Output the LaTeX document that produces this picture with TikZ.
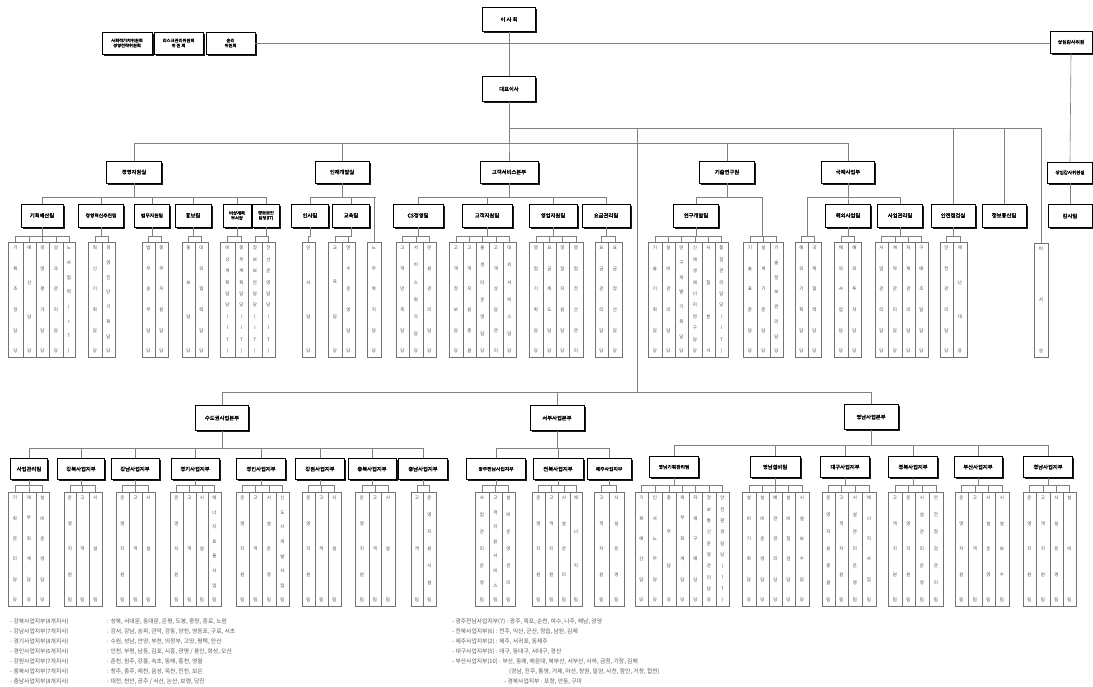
\documentclass[tikz,border=0pt]{standalone}
\usepackage{fontspec}
\usetikzlibrary{shadows}
\newfontfamily\kr{Noto Sans CJK KR}[AutoFakeBold=2]
\ExplSyntaxOn
\int_new:N \l_vc_n_int
\int_new:N \l_vc_i_int
\NewDocumentCommand \vchars { m m m m }
 {
  \int_set:Nn \l_vc_n_int { \tl_count:n {#1} }
  \int_zero:N \l_vc_i_int
  \tl_map_inline:nn {#1}
   {
    \vcput {#2} {#3} {#4} { \int_use:N \l_vc_n_int } { \int_use:N \l_vc_i_int } {##1}
    \int_incr:N \l_vc_i_int
   }
 }
\ExplSyntaxOff
\newcommand\vcput[6]{\pgfmathsetmacro\vcy{#2+6+(#3-#2-12)*(#5)/max((#4)-1,1)}\node[coltext] at ({#1},\vcy) {#6};}
\newcommand\colgrp[5]{%
 \foreach \xa/\xb/\txt [count=\kk] in {#5} {%
   \node[colbox, minimum width=\xb-\xa, minimum height=#4-#3] (#1-c\kk) at ({(\xa+\xb)/2},{(#3+#4)/2}) {};
   \draw[link] (#1.south) -- (#1.south |- 0,#2) -| (#1-c\kk.north);
   \expandafter\vchars\expandafter{\txt}{(\xa+\xb)/2}{#3}{#4}
 }}
\newcommand\kids[3]{\foreach \ch in {#3}{\draw[link] (#1.south) -- (#1.south |- 0,#2) -| (\ch.north);}}
\tikzset{
 box/.style={draw=black, line width=0.55pt, fill=white, font=\kr\bfseries\fontsize{5.3}{6}\selectfont, align=center, inner sep=1pt,
   drop shadow={shadow xshift=1.7pt, shadow yshift=-1.7pt, fill=black!90, opacity=1}},
 link/.style={draw=black!50, line width=0.6pt},
 colbox/.style={draw=black!55, line width=0.5pt, inner sep=0pt},
 coltext/.style={font=\kr\fontsize{4.5}{4.5}\selectfont, text=black!72, inner sep=0pt},
 pt/.style={inner sep=0pt, minimum size=0pt},
 foot/.style={font=\kr\fontsize{5.8}{6}\selectfont, text=black!65, anchor=west, inner sep=0pt},
}
\begin{document}
\begin{tikzpicture}[x=1pt,y=-1pt]
\fill[white] (0,0) rectangle (1093,686);
\useasboundingbox (0,0) rectangle (1093,686);
% top
\node[box, minimum width=53, minimum height=24] (board) at (509,19.5) {이 사 회};
\node[box, minimum width=53, minimum height=25] (ceo) at (509,89) {대표이사};
\node[box, minimum width=42, minimum height=22, font=\kr\bfseries\fontsize{4.8}{5}\selectfont] (aud) at (1071,42) {상임감사위원};
\node[box, minimum width=50, minimum height=22, font=\kr\bfseries\fontsize{4.3}{5}\selectfont] (lb1) at (127,43) {사회적가치위원회\\경영전략위원회};
\node[box, minimum width=49, minimum height=22, font=\kr\bfseries\fontsize{4.3}{5}\selectfont] (lb2) at (178.5,43) {리스크관리위원회\\위 원 회};
\node[box, minimum width=49, minimum height=22, font=\kr\bfseries\fontsize{4.3}{5}\selectfont] (lb3) at (230.5,43) {윤리\\위원회};
\node[box, minimum width=45, minimum height=21, font=\kr\bfseries\fontsize{4.5}{5}\selectfont] (aud2) at (1070,172.5) {상임감사위원실};
\node[box, minimum width=44, minimum height=23] (aud3) at (1070,216) {감사팀};
\draw[link] (board.south) -- (ceo.north);
\draw[link] (lb3.east) -- (lb3.east -| aud.west);
\draw[link] (aud.south) -- (aud2.north);
\draw[link] (aud2.south) -- (aud3.north);
% level 2
\node[box, minimum width=55, minimum height=22] (l2a) at (134,172) {경영지원실};
\node[box, minimum width=54, minimum height=22] (l2b) at (342,172) {인재개발실};
\node[box, minimum width=58, minimum height=22] (l2c) at (509,172) {고객서비스본부};
\node[box, minimum width=55, minimum height=22] (l2d) at (727,172) {기술연구원};
\node[box, minimum width=53, minimum height=22] (l2e) at (848,172) {국제사업부};
\kids{ceo}{143}{l2a,l2b,l2c,l2d,l2e}
% right side
\node[box, minimum width=44, minimum height=23] (r1) at (953,215.5) {안전점검실};
\node[box, minimum width=44, minimum height=23] (r2) at (1004,215.5) {정보통신팀};
\node[pt] (b1040) at (1040,128) {};
\kids{ceo}{128}{r1,r2,b1040}
% level 3
\node[box, minimum width=42, minimum height=23] (l3a) at (42,215.5) {기획예산팀};
\node[box, minimum width=45, minimum height=23, font=\kr\bfseries\fontsize{4.8}{5}\selectfont] (l3b) at (101,215.5) {경영혁신추진팀};
\node[box, minimum width=35, minimum height=23, font=\kr\bfseries\fontsize{4.8}{5}\selectfont] (l3c) at (152,215.5) {법무지원팀};
\node[box, minimum width=36, minimum height=23] (l3d) at (193,215.5) {홍보팀};
\node[box, minimum width=28, minimum height=23, font=\kr\bfseries\fontsize{4.3}{5}\selectfont] (l3e) at (237,215.5) {비상계획\\부서장};
\node[box, minimum width=27, minimum height=23, font=\kr\bfseries\fontsize{4.3}{5}\selectfont] (l3f) at (266,215.5) {정보보안\\담당(IT)};
\kids{l2a}{197}{l3a,l3b,l3c,l3d,l3e,l3f}
\node[box, minimum width=37, minimum height=23] (l3g) at (310,215.5) {인사팀};
\node[box, minimum width=37, minimum height=23] (l3h) at (351,215.5) {교육팀};
\node[pt] (b375) at (375,197) {};
\kids{l2b}{197}{l3g,l3h,b375}
\node[box, minimum width=50, minimum height=23] (l3i) at (418,215.5) {CS경영팀};
\node[box, minimum width=50, minimum height=23] (l3j) at (487,215.5) {고객지원팀};
\node[box, minimum width=48, minimum height=23] (l3k) at (553,215.5) {영업지원팀};
\node[box, minimum width=48, minimum height=23] (l3l) at (606,215.5) {요금관리팀};
\kids{l2c}{197}{l3i,l3j,l3k,l3l}
\node[box, minimum width=45, minimum height=23] (l3m) at (696,215.5) {연구개발팀};
\node[pt] (b762) at (762,197) {};
\kids{l2d}{197}{l3m,b762}
\node[pt] (b807) at (807,197) {};
\node[box, minimum width=45, minimum height=23] (l3n) at (848,215.5) {해외사업팀};
\node[box, minimum width=45, minimum height=23] (l3o) at (900,215.5) {사업관리팀};
\kids{l2e}{197}{b807,l3n,l3o}
% upper columns
\colgrp{l3a}{236}{242}{357}{8/23/기획조정담당, 23/36/예산담당, 36/49/경영평가담당, 49/63/성과관리담당, 63/75/노사협력(IT)}
\colgrp{l3b}{236}{242}{357}{88/102/혁신기획담당, 102/115/경영진단기획담당}
\colgrp{l3c}{236}{242}{357}{142/155/법무송무담당, 155/168/총무지원담당}
\colgrp{l3d}{236}{242}{357}{182/195/홍보담당, 195/208/대외협력담당}
\colgrp{l3e}{236}{242}{357}{220/235/비상계획담당(IT), 235/248/충무계획담당(IT)}
\colgrp{l3f}{236}{242}{357}{248/262/정보보안담당(IT), 262/275/전산운영담당(IT)}
\colgrp{l3g}{236}{242}{357}{302/315/인사담당}
\colgrp{l3h}{236}{242}{357}{328/342/교육담당, 342/355/연수운영담당}
\colgrp{b375}{197}{242}{357}{367/381/노무복지담당}
\colgrp{l3i}{236}{242}{357}{396/409/고객만족담당, 409/423/서비스평가담당, 423/436/민원관리담당}
\colgrp{l3j}{236}{242}{357}{449/463/고객정보담당, 463/476/고객지원총괄, 476/489/콜센터운영담당, 489/503/고객상담관리, 503/516/대외서비스담당}
\colgrp{l3k}{236}{242}{357}{529/543/영업기획담당, 543/556/요금제도담당, 556/569/영업지원담당, 569/583/영업전산관리}
\colgrp{l3l}{236}{242}{357}{595/608/요금관리담당, 608/622/요금정산담당}
\colgrp{l3m}{236}{242}{357}{648/662/기술기획담당, 662/675/설비관리담당, 675/688/연구개발기획담당, 688/702/신재생에너지연구담당, 702/715/시험분석, 715/728/품질관리담당(IT)}
\colgrp{b762}{236}{242}{357}{743/757/기술표준담당, 757/770/설계기준담당, 770/783/기술정보관리담당}
\colgrp{b807}{236}{242}{357}{795/808/해외기획담당, 808/821/국제협력담당}
\colgrp{l3n}{236}{242}{357}{834/848/해외사업담당, 848/861/해외투자담당}
\colgrp{l3o}{236}{242}{357}{875/888/사업관리담당, 888/902/계약관리담당, 902/915/자재관리담당, 915/928/구매조달담당}
\colgrp{r1}{236}{242}{357}{940/953/안전관리담당, 953/967/재난대응}
\colgrp{b1040}{128}{243}{357}{1034/1048/비서실}
% lower section
\node[pt] (lowhub) at (637,392) {};
\draw[link] (ceo.south) -- (ceo.south |- 0,128) -| (lowhub.north);
\node[box, minimum width=53, minimum height=25] (low1) at (222,418) {수도권사업본부};
\node[box, minimum width=54, minimum height=25] (low2) at (557,418) {서부사업본부};
\node[box, minimum width=54, minimum height=25] (low3) at (871,417) {영남사업본부};
\kids{lowhub}{392}{low1,low2,low3}
\node[box, minimum width=37, minimum height=21] (m1) at (29,469) {사업관리팀};
\node[box, minimum width=47, minimum height=21] (m2) at (81,469) {강북사업지부};
\node[box, minimum width=48, minimum height=21] (m3) at (135,469) {강남사업지부};
\node[box, minimum width=48, minimum height=21] (m4) at (195,469) {경기사업지부};
\node[box, minimum width=49, minimum height=21] (m5) at (261,469) {경인사업지부};
\node[box, minimum width=49, minimum height=21] (m6) at (320,469) {강원사업지부};
\node[box, minimum width=48, minimum height=21] (m7) at (372,469) {충북사업지부};
\node[box, minimum width=49, minimum height=21] (m8) at (423,469) {충남사업지부};
\kids{low1}{448}{m1,m2,m3,m4,m5,m6,m7,m8}
\node[box, minimum width=59, minimum height=21, font=\kr\bfseries\fontsize{4.8}{5}\selectfont] (n1) at (496,469) {광주전남사업지부};
\node[box, minimum width=50, minimum height=21] (n2) at (558,469) {전북사업지부};
\node[box, minimum width=44, minimum height=21, font=\kr\bfseries\fontsize{4.8}{5}\selectfont] (n3) at (609,469) {제주사업지부};
\kids{low2}{448}{n1,n2,n3}
\node[box, minimum width=49, minimum height=21, font=\kr\bfseries\fontsize{4.8}{5}\selectfont] (o1) at (674,467) {영남기획관리팀};
\node[box, minimum width=50, minimum height=21] (o2) at (775,467) {영남설비팀};
\node[box, minimum width=49, minimum height=21] (o3) at (845,467) {대구사업지부};
\node[box, minimum width=49, minimum height=21] (o4) at (913,467) {경북사업지부};
\node[box, minimum width=48, minimum height=21] (o5) at (978,467) {부산사업지부};
\node[box, minimum width=49, minimum height=21] (o6) at (1048,467) {경남사업지부};
\kids{low3}{445}{o1,o2,o3,o4,o5,o6}
% lower columns
\colgrp{m1}{485}{492}{606}{8/22/기획관리담당, 22/36/재무회계담당, 36/49/설비운영담당}
\colgrp{m2}{485}{492}{606}{64/76/운영지원팀, 76/89/고객팀, 89/102/시설팀}
\colgrp{m3}{485}{492}{606}{116/129/운영지원팀, 129/142/고객팀, 142/155/시설팀}
\colgrp{m4}{485}{492}{606}{170/183/운영지원팀, 183/196/고객팀, 196/208/시설팀, 208/221/에너지효율사업팀}
\colgrp{m5}{485}{492}{606}{236/249/운영지원팀, 249/262/고객팀, 262/276/시설운영팀, 276/289/신도시개발사업팀}
\colgrp{m6}{485}{492}{606}{302/315/운영지원팀, 315/328/고객팀, 328/341/시설팀}
\colgrp{m7}{485}{492}{606}{355/369/운영지원팀, 369/381/고객팀, 381/395/시설팀}
\colgrp{m8}{485}{492}{606}{411/423/고객팀, 423/436/운영지원시설팀}
\colgrp{n1}{485}{492}{606}{475/489/사업관리운영팀, 489/502/고객지원서비스팀, 502/515/설비운영관리팀}
\colgrp{n2}{485}{492}{606}{532/545/운영지원팀, 545/558/고객지원팀, 558/570/시설관리팀, 570/582/에너지팀}
\colgrp{n3}{485}{492}{606}{594/609/고객지원팀, 609/624/시설운영팀}
\colgrp{o1}{485}{492}{606}{635/648/기획예산담당, 648/662/인사노무담당, 662/676/총무담당, 676/689/재무회계담당, 689/702/자재구매담당, 702/716/정보통신운영관리담당, 716/729/안전환경담당(IT)}
\colgrp{o2}{485}{492}{606}{742/756/설비기획담당, 756/769/설비운영담당, 769/782/배관관리담당, 782/795/설비점검담당, 795/809/시설보수담당}
\colgrp{o3}{485}{492}{606}{822/835/운영지원총괄팀, 835/848/고객지원팀, 848/862/시설관리운영팀, 862/876/에너지사업팀}
\colgrp{o4}{485}{492}{606}{888/902/고객지원팀, 902/915/운영지원팀, 915/929/시설관리운영팀, 929/943/안전점검관리팀}
\colgrp{o5}{485}{492}{606}{955/968/운영지원팀, 968/982/고객팀, 982/995/시설운영팀, 995/1009/시설보수팀}
\colgrp{o6}{485}{492}{606}{1023/1036/운영지원팀, 1036/1050/고객지원팀, 1050/1063/시설운영팀, 1063/1076/설비팀}
% footer notes
\node[foot] (fa1) at (10,622) {- 강북사업지부(8개지사)};
\node[foot] (fa2) at (10,632) {- 강남사업지부(7개지사)};
\node[foot] (fa3) at (10,642) {- 경기사업지부(8개지사)};
\node[foot] (fa4) at (10,652) {- 경인사업지부(6개지사)};
\node[foot] (fa5) at (10,662) {- 강원사업지부(7개지사)};
\node[foot] (fa6) at (10,672) {- 충북사업지부(7개지사)};
\node[foot] (fa7) at (10,682) {- 충남사업지부(8개지사)};
\node[foot] (fb1) at (107,622) {: 성북, 서대문, 동대문, 은평, 도봉, 중랑, 종로, 노원};
\node[foot] (fb2) at (107,632) {: 강서, 강남, 송파, 관악, 강동, 양천, 영등포, 구로, 서초};
\node[foot] (fb3) at (107,642) {: 수원, 성남, 안양, 부천, 의정부, 고양, 평택, 안산};
\node[foot] (fb4) at (107,652) {: 인천, 부평, 남동, 김포, 시흥, 광명 / 용인, 화성, 오산};
\node[foot] (fb5) at (107,662) {: 춘천, 원주, 강릉, 속초, 동해, 홍천, 영월};
\node[foot] (fb6) at (107,672) {: 청주, 충주, 제천, 음성, 옥천, 진천, 보은};
\node[foot] (fb7) at (107,682) {: 대전, 천안, 공주 / 서산, 논산, 보령, 당진};
\node[foot] (fc1) at (452,622) {- 광주전남사업지부(7) : 광주, 목포, 순천, 여수, 나주, 해남, 광양};
\node[foot] (fc2) at (452,632) {- 전북사업지부(6) : 전주, 익산, 군산, 정읍, 남원, 김제};
\node[foot] (fc3) at (452,642) {- 제주사업지부(2) : 제주, 서귀포, 동제주};
\node[foot] (fc4) at (452,652) {- 대구사업지부(5) : 대구, 동대구, 서대구, 경산};
\node[foot] (fc5) at (452,662) {- 부산사업지부(10) : 부산, 동래, 해운대, 북부산, 서부산, 사하, 금정, 기장, 김해};
\node[foot] (fc6) at (509,672) {(경남, 진주, 통영, 거제, 마산, 창원, 밀양, 사천, 함안, 거창, 합천)};
\node[foot] (fc7) at (504,682) {- 경북사업지부 : 포항, 안동, 구미};
\end{tikzpicture}
\end{document}
